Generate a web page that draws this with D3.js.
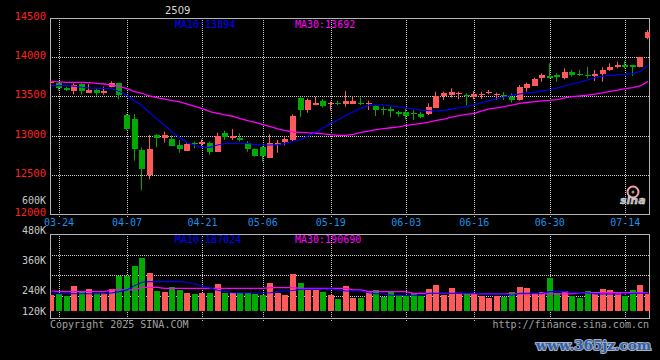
<!DOCTYPE html>
<html><head><meta charset="utf-8">
<script src="https://cdn.jsdelivr.net/npm/d3@7"></script>
<style>html,body{margin:0;padding:0;background:#000;}svg{display:block;}</style>
</head><body>
<svg id="c" width="660" height="360"></svg>
<script>
const title = "2509";
const dates = ["03-21","03-24","03-25","03-26","03-27","03-28","03-31","04-01","04-02","04-03",
"04-07","04-08","04-09","04-10","04-11","04-14","04-15","04-16","04-17","04-18",
"04-21","04-22","04-23","04-24","04-25","04-28","04-29","04-30","05-06","05-07",
"05-08","05-09","05-12","05-13","05-14","05-15","05-16","05-19","05-20","05-21",
"05-22","05-23","05-26","05-27","05-28","05-29","05-30","06-03","06-04","06-05",
"06-06","06-09","06-10","06-11","06-12","06-13","06-16","06-17","06-18","06-19",
"06-20","06-23","06-24","06-25","06-26","06-27","06-30","07-01","07-02","07-03",
"07-04","07-07","07-08","07-09","07-10","07-11","07-14","07-15","07-16","07-17"];
const tickDates = ["03-24","04-07","04-21","05-06","05-19","06-03","06-16","06-30","07-14"];
const priceTicks = [14500,14000,13500,13000,12500,12000];
const volTicks = [600000,480000,360000,240000,120000];
const volTickLabels = ["600K","480K","360K","240K","120K"];

const opens = [13672,13667,13611,13569,13658,13548,13582,13539,13616,13667,
13263,13212,12816,12497,13008,12974,12957,12876,12808,12910,
12897,12901,12795,13033,12974,12965,12910,12825,12850,12718,
12876,12918,12944,13480,13327,13386,13437,13403,13416,13407,
13407,13420,13416,13378,13339,13335,13297,13305,13288,13271,
13275,13356,13505,13518,13535,13522,13496,13522,13543,13522,
13522,13497,13454,13611,13633,13730,13765,13773,13730,13815,
13790,13777,13760,13786,13837,13871,13901,13901,13871,14249];
const closes = [13678,13603,13582,13645,13573,13582,13539,13573,13667,13514,
13084,12833,12578,12829,12974,13003,12867,12825,12893,12888,
12923,12795,12995,12986,12999,12944,12825,12740,12740,12910,
12910,12961,13254,13327,13454,13420,13382,13420,13407,13446,
13446,13412,13420,13327,13331,13318,13275,13254,13280,13241,
13369,13509,13539,13552,13543,13514,13526,13531,13552,13531,
13514,13454,13616,13654,13722,13773,13739,13752,13815,13773,
13782,13769,13786,13837,13879,13901,13871,13871,13999,14325];
const highs = [13701,13675,13624,13666,13666,13658,13594,13624,13692,13675,
13275,13275,12850,13008,13020,13050,13003,12944,12901,12923,
12952,12923,13037,13063,13084,13029,12931,12838,12867,13020,
12944,12978,13271,13488,13475,13497,13467,13433,13446,13569,
13497,13484,13446,13390,13369,13369,13318,13348,13327,13305,
13412,13560,13560,13603,13560,13539,13569,13560,13582,13548,
13556,13539,13645,13675,13739,13794,13922,13794,13858,13837,
13837,13879,13837,13871,13922,13943,13952,13901,14005,14347];
const lows = [13645,13573,13569,13526,13522,13548,13509,13522,13616,13462,
13071,12680,12306,12442,12850,12910,12867,12782,12808,12837,
12867,12752,12795,12944,12944,12923,12795,12731,12667,12718,
12782,12876,12923,13241,13292,13386,13356,13318,13390,13369,
13407,13390,13327,13250,13263,13233,13241,13207,13199,13220,
13263,13356,13454,13488,13463,13390,13463,13467,13526,13454,
13454,13420,13446,13560,13633,13688,13730,13688,13718,13752,
13760,13730,13696,13688,13824,13858,13858,13760,13871,14228];
const volumes = [195000,200000,192000,237000,214000,223000,203000,203000,223000,284000,
284000,331000,370000,298000,214000,209000,233000,219000,205000,200000,
205000,206000,247000,206000,206000,206000,206000,200000,195000,251000,
206000,195000,294000,251000,219000,219000,209000,195000,176000,237000,
181000,181000,209000,219000,186000,214000,195000,190000,205000,190000,
223000,242000,195000,228000,200000,205000,205000,190000,181000,190000,
186000,209000,233000,228000,205000,208000,276000,205000,214000,190000,
181000,214000,200000,223000,219000,209000,190000,219000,242000,200000];
const ma10 = [13637,13637,13637,13630,13616,13608,13603,13603,13598,13562,
13515,13445,13380,13295,13205,13130,13045,12975,12910,12873,
12850,12850,12880,12900,12900,12900,12900,12885,12880,12880,
12885,12900,12925,12950,12995,13040,13100,13155,13205,13255,
13305,13350,13385,13390,13390,13380,13365,13352,13340,13325,
13318,13314,13322,13338,13355,13372,13390,13420,13446,13470,
13495,13513,13530,13543,13555,13570,13585,13608,13632,13657,
13683,13710,13740,13757,13768,13776,13783,13790,13820,13894];
const ma30 = [13692,13685,13680,13678,13677,13676,13665,13658,13645,13628,
13598,13562,13540,13505,13485,13465,13447,13430,13400,13372,
13345,13305,13284,13263,13247,13218,13192,13170,13140,13114,
13085,13063,13046,13040,13035,13030,13022,13012,13003,13003,
13015,13040,13058,13075,13090,13100,13112,13130,13142,13155,
13172,13195,13210,13235,13255,13270,13284,13315,13340,13355,
13370,13390,13410,13422,13433,13444,13450,13460,13480,13497,
13505,13515,13530,13545,13565,13580,13600,13612,13633,13692];
const volMa10 = [201000,201000,201000,201000,201000,201000,201000,201000,
205000,211000,219000,239000,255000,258000,258000,258000,258000,258000,
255000,247000,237000,228000,217000,211000,206000,206000,206000,206000,
203000,206000,211000,214000,216000,222000,222000,222000,222000,223000,
219000,214000,214000,214000,206000,201000,201000,194000,194000,194000,
194000,194000,203000,203000,203000,203000,203000,203000,203000,200000,
200000,200000,200000,194000,203000,203000,203000,203000,211000,211000,
211000,206000,206000,206000,200000,200000,200000,200000,200000,203000,
203000,203000];
const volMa30 = [214000,211000,211000,211000,211000,211000,211000,211000,
219000,219000,219000,219000,231000,231000,231000,
226000,226000,226000,226000,226000,226000,226000,226000,226000,226000,226000,226000,226000,226000,
230000,230000,230000,230000,
226000,226000,226000,226000,226000,226000,226000,
219000,219000,
211000,211000,211000,211000,211000,211000,
203000,203000,203000,203000,203000,203000,203000,
200000,200000,200000,200000,200000,200000,200000,200000,200000,200000,200000,200000,200000,200000,200000,
206000,206000,206000,206000,206000,206000,206000,206000,206000,206000];
const maPrice = [["MA10", 13894], ["MA30", 13692]];
const maVol = [["MA10", 187024], ["MA30", 190690]];

[opens,closes,highs,lows,volumes,ma10,ma30,volMa10,volMa30].forEach((a,k)=>{
  if (a.length !== dates.length) throw new Error("length mismatch " + k + ": " + a.length);
});

const RED = "#ff5a5a", GREEN = "#00aa00", BLUE = "#0000ff", MAG = "#ff00ff";
const GRID = "#c8c8c8", FRAME = "#b4b4b4";
const MONO = "'DejaVu Sans Mono', 'Liberation Mono', monospace";
const L = 50, R = 650, pT = 18, pB = 214, vT = 234, vB = 318;

const svg = d3.select("#c");
svg.append("rect").attr("width", 660).attr("height", 360).attr("fill", "#000");

const x = d3.scalePoint().domain(dates).range([51.45, 647.9]);
const yP = d3.scaleLinear().domain([12000, 14500]).range([pB, pT]);
const yV = d3.scaleLinear().domain([120000, 480000]).range([311, 234.3]);
const yVLabel = d3.scaleLinear().domain([240000, 600000]).range([290, 200]);

const defs = svg.append("defs");
defs.append("clipPath").attr("id", "clipP").append("rect").attr("x", L).attr("y", pT).attr("width", R - L).attr("height", pB - pT);
defs.append("clipPath").attr("id", "clipV").append("rect").attr("x", L).attr("y", vT).attr("width", R - L).attr("height", vB - vT);

// grid lines
const grid = svg.append("g").attr("stroke", GRID).attr("stroke-dasharray", "1,1").attr("shape-rendering", "crispEdges");
priceTicks.filter(t => t !== 14500 && t !== 12000).forEach(t => {
  const yy = Math.round(yP(t)) + 0.5;
  grid.append("line").attr("x1", L).attr("x2", R).attr("y1", yy).attr("y2", yy);
});
[1, 2, 3].forEach(k => {
  const yy = Math.round(vT + k * 20.7) + 0.5;
  grid.append("line").attr("x1", L).attr("x2", R).attr("y1", yy).attr("y2", yy);
});
tickDates.forEach(d => {
  const xx = Math.round(x(d)) + 0.5;
  grid.append("line").attr("x1", xx).attr("x2", xx).attr("y1", pT).attr("y2", pB + 3);
  grid.append("line").attr("x1", xx).attr("x2", xx).attr("y1", vT).attr("y2", vB + 3);
});

// frames
const fr = svg.append("g").attr("stroke", FRAME).attr("fill", "none").attr("shape-rendering", "crispEdges");
fr.append("rect").attr("x", L + 0.5).attr("y", pT + 0.5).attr("width", R - L - 1).attr("height", pB - pT);
fr.append("rect").attr("x", L + 0.5).attr("y", vT + 0.5).attr("width", R - L - 1).attr("height", vB - vT);

// candles
const idx = d3.range(dates.length);
const cg = svg.append("g").attr("clip-path", "url(#clipP)");
idx.forEach(i => {
  const col = closes[i] >= opens[i] ? RED : GREEN;
  const cx = x(dates[i]);
  const left = Math.round(cx - 3);
  cg.append("line").attr("x1", left + 2.5).attr("x2", left + 2.5)
    .attr("y1", yP(highs[i])).attr("y2", yP(lows[i])).attr("stroke", col).attr("stroke-width", 1);
  const yTop = yP(Math.max(opens[i], closes[i]));
  const yBot = yP(Math.min(opens[i], closes[i]));
  cg.append("rect").attr("x", left).attr("width", 6)
    .attr("y", Math.round(yTop)).attr("height", Math.max(1, Math.round(yBot) - Math.round(yTop)))
    .attr("fill", col).attr("shape-rendering", "crispEdges");
});

// price MA lines
const lineP = d3.line().x((d, i) => x(dates[i])).y(d => yP(d));
cg.append("path").datum(ma30).attr("d", lineP).attr("fill", "none").attr("stroke", MAG).attr("stroke-width", 1.3);
cg.append("path").datum(ma10).attr("d", lineP).attr("fill", "none").attr("stroke", BLUE).attr("stroke-width", 1.1);

// volume bars
const vg = svg.append("g").attr("clip-path", "url(#clipV)");
vg.selectAll("rect.vb").data(idx).join("rect").attr("class", "vb")
  .attr("x", i => Math.round(x(dates[i]) - 3)).attr("width", 6)
  .attr("y", i => Math.round(yV(volumes[i])))
  .attr("height", i => Math.round(yV(120000)) - Math.round(yV(volumes[i])))
  .attr("fill", i => closes[i] >= opens[i] ? RED : GREEN)
  .attr("shape-rendering", "crispEdges");
const lineV = d3.line().x((d, i) => x(dates[i])).y(d => yV(d));
vg.append("path").datum(volMa30).attr("d", lineV).attr("fill", "none").attr("stroke", MAG).attr("stroke-width", 1.2);
vg.append("path").datum(volMa10).attr("d", lineV).attr("fill", "none").attr("stroke", BLUE).attr("stroke-width", 1.1);

// axis labels
const txt = svg.append("g").attr("font-family", MONO).attr("font-size", 10);
priceTicks.forEach(t => {
  txt.append("text").attr("x", 46).attr("y", yP(t) - 2).attr("text-anchor", "end")
    .attr("dominant-baseline", "central").attr("fill", "#ff2020").attr("font-size", 10.5).text(t);
});
volTicks.forEach((t, k) => {
  txt.append("text").attr("x", 46).attr("y", Math.min(yVLabel(t), 311)).attr("text-anchor", "end")
    .attr("dominant-baseline", "central").attr("fill", "#c8c8c8").text(volTickLabels[k]);
});
tickDates.forEach(d => {
  txt.append("text").attr("x", x(d)).attr("y", 222).attr("text-anchor", "middle")
    .attr("dominant-baseline", "central").attr("fill", "#1c8fe6").text(d);
});

// MA legends
[[maPrice, 24], [maVol, 239]].forEach(([arr, yy]) => {
  arr.forEach((m, k) => {
    txt.append("text").attr("x", k === 0 ? 175 : 295).attr("y", yy).attr("dominant-baseline", "central")
      .attr("fill", k === 0 ? BLUE : MAG).text(m[0] + ":" + m[1]);
  });
});

// title and footer
svg.append("text").attr("x", 165).attr("y", 10).attr("dominant-baseline", "central")
  .attr("font-family", "'DejaVu Sans', sans-serif").attr("font-size", 10).attr("fill", "#d8d8d8").text(title);
txt.append("text").attr("x", 50).attr("y", 324).attr("dominant-baseline", "central").attr("fill", "#a0a0a0").text("Copyright 2025 SINA.COM");
txt.append("text").attr("x", 649).attr("y", 324).attr("text-anchor", "end").attr("dominant-baseline", "central").attr("fill", "#a0a0a0").text("http://finance.sina.com.cn");

// sina logo
const logo = svg.append("g");
logo.append("circle").attr("cx", 633).attr("cy", 192).attr("r", 5.5).attr("fill", "none").attr("stroke", "#f4a0a8").attr("stroke-width", 2);
logo.append("circle").attr("cx", 633).attr("cy", 192).attr("r", 1.5).attr("fill", "#999");
logo.append("text").attr("x", 620).attr("y", 204).attr("font-family", "'DejaVu Sans', sans-serif").attr("font-weight", "bold")
  .attr("font-style", "italic").attr("font-size", 11).attr("fill", "#b8b8b8").attr("stroke", "#e0e0e0").attr("stroke-width", 0.4).text("sina");

// watermark
svg.append("text").attr("x", 536).attr("y", 350).attr("font-family", "'DejaVu Serif', serif").attr("font-weight", "bold")
  .attr("font-size", 13).attr("textLength", 115).attr("lengthAdjust", "spacingAndGlyphs")
  .attr("fill", "#2d5ea8").attr("stroke", "#a8b0c0").attr("stroke-width", 2).attr("paint-order", "stroke")
  .text("www.365jz.com");
</script>
</body></html>
